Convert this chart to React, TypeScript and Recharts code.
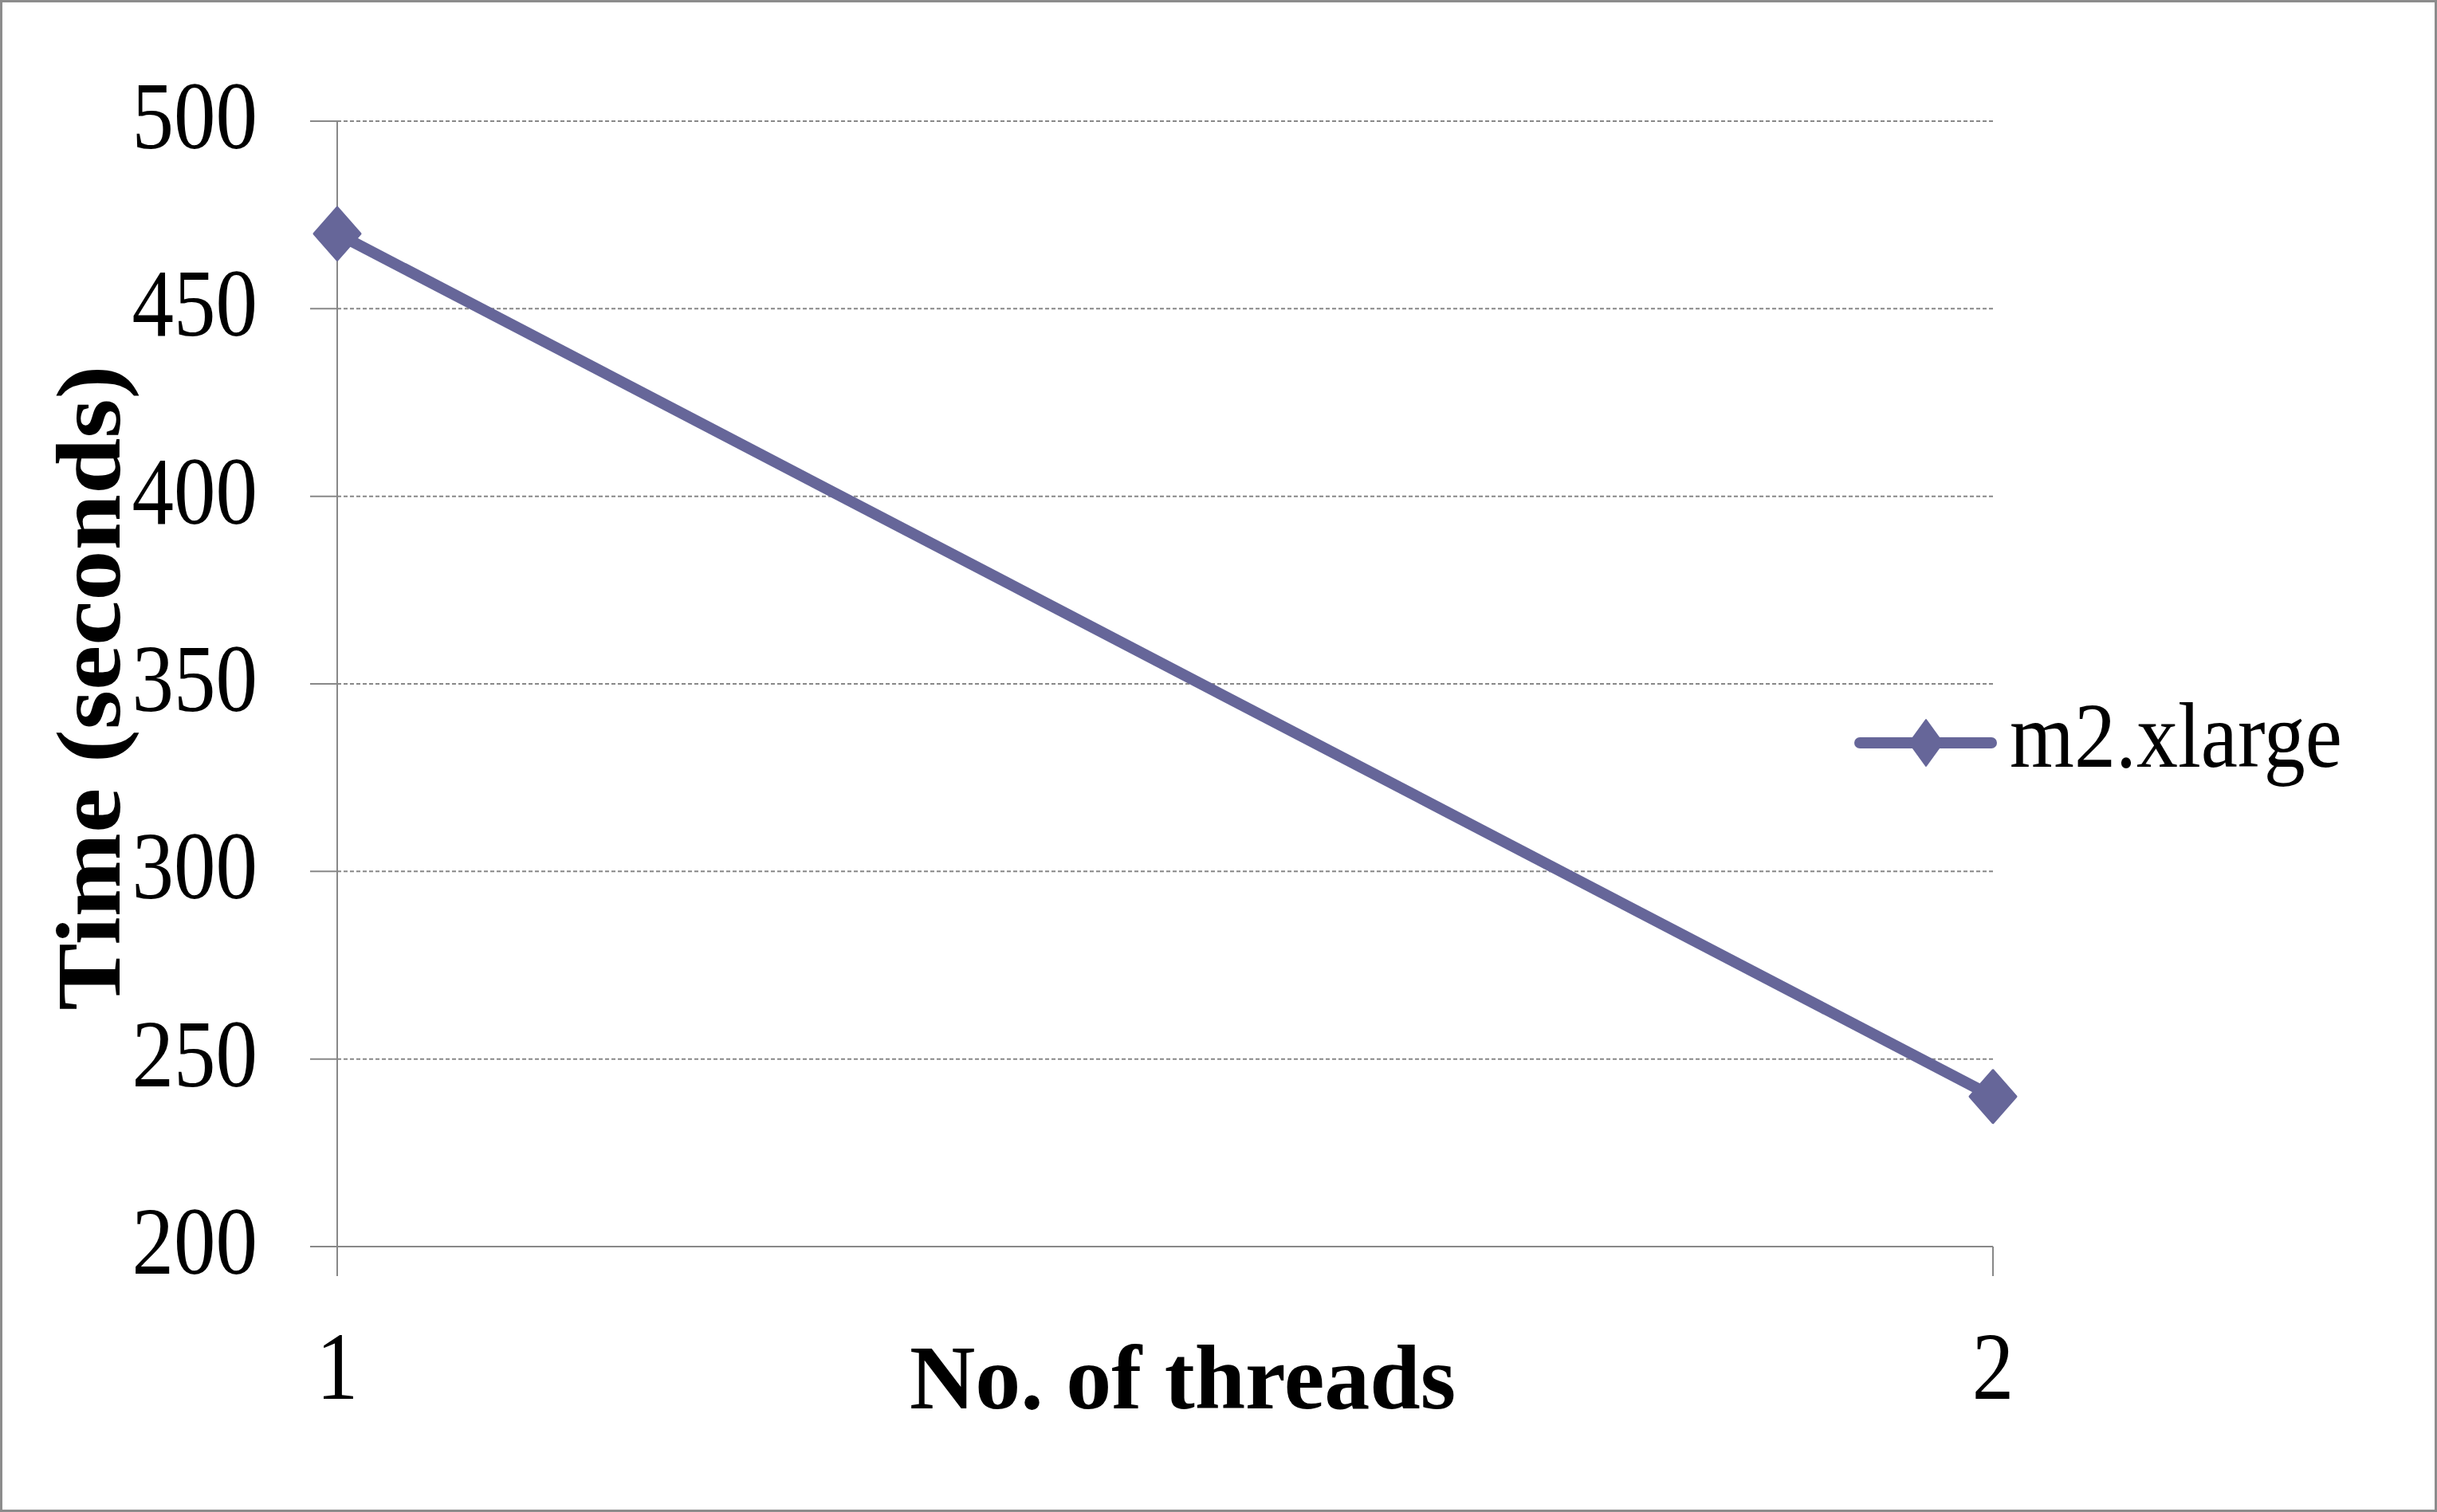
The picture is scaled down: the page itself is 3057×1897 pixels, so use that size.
import React from "react";
import {
  LineChart,
  Line,
  CartesianGrid,
  XAxis,
  YAxis,
  Legend,
  Label,
} from "recharts";

const threads = ["1", "2"];
const m2xlarge = [470, 240];
const yTicks = [200, 250, 300, 350, 400, 450, 500];

const data = threads.map((t, i) => ({ threads: t, m2xlarge: m2xlarge[i] }));

const LINE = "#666699";
const AXIS = "#888888";
const FONT = "'Liberation Serif', 'Times New Roman', serif";

const Diamond = (props: any) => {
  const { cx, cy } = props;
  if (cx == null || cy == null) return null;
  const w = 29;
  const h = 33;
  return (
    <polygon
      points={`${cx},${cy - h} ${cx + w},${cy} ${cx},${cy + h} ${cx - w},${cy}`}
      fill={LINE}
      stroke={LINE}
      strokeWidth={3}
      strokeLinejoin="round"
    />
  );
};

const YTick = (props: any) => {
  const { x, y, payload } = props;
  return (
    <text
      transform={`translate(${x},${y + 34}) scale(1,1.14)`}
      textAnchor="end"
      fontFamily={FONT}
      fontSize={105}
      fill="#000"
    >
      {payload.value}
    </text>
  );
};

const XTick = (props: any) => {
  const { x, y, payload } = props;
  return (
    <text
      transform={`translate(${x},${y + 154}) scale(1,1.14)`}
      textAnchor="middle"
      fontFamily={FONT}
      fontSize={105}
      fill="#000"
    >
      {payload.value}
    </text>
  );
};

const LegendBox = (props: any) => {
  const item = props.payload && props.payload[0];
  return (
    <svg width={720} height={140} style={{ display: "block", overflow: "visible" }}>
      <line x1={7} y1={52} x2={172} y2={52} stroke={LINE} strokeWidth={14} strokeLinecap="round" />
      <polygon points="90,23 111,52 90,81 69,52" fill={LINE} stroke={LINE} strokeWidth={2} strokeLinejoin="round" />
      <text
        transform="translate(195,82) scale(1,1.11)"
        fontFamily={FONT}
        fontSize={104}
        fill="#000"
      >
        {item ? item.value : "m2.xlarge"}
      </text>
    </svg>
  );
};

const App: React.FC = () => {
  return (
    <div style={{ position: "relative", width: 3057, height: 1897, background: "#fff" }}>
      <style>{"body{margin:0}"}</style>
      <LineChart
        width={3057}
        height={1897}
        data={data}
        margin={{ top: 152, right: 557, left: 0, bottom: 0 }}
      >
        <CartesianGrid vertical={false} stroke={AXIS} strokeWidth={2} strokeDasharray="5 3" />
        <XAxis
          dataKey="threads"
          height={333}
          stroke={AXIS}
          strokeWidth={2}
          tickSize={37}
          tickMargin={0}
          tick={<XTick />}
          tickLine={{ stroke: AXIS, strokeWidth: 2 }}
        >
          <Label
            content={(p: any) => {
              const vb = p.viewBox;
              return (
                <text
                  x={vb.x + vb.width / 2 + 22}
                  y={vb.y + 203}
                  textAnchor="middle"
                  fontFamily={FONT}
                  fontWeight="bold"
                  fontSize={114}
                  fill="#000"
                >
                  No. of threads
                </text>
              );
            }}
          />
        </XAxis>
        <YAxis
          width={423}
          domain={[200, 500]}
          ticks={yTicks}
          interval={0}
          stroke={AXIS}
          strokeWidth={2}
          tickSize={34}
          tickMargin={66}
          tick={<YTick />}
          tickLine={{ stroke: AXIS, strokeWidth: 2 }}
        >
          <Label
            content={(p: any) => {
              const vb = p.viewBox;
              const cx = vb.x + 150;
              const cy = vb.y + vb.height / 2 + 5;
              return (
                <text
                  transform={`translate(${cx},${cy}) rotate(-90) scale(1.1,1)`}
                  textAnchor="middle"
                  fontFamily={FONT}
                  fontWeight="bold"
                  fontSize={115}
                  fill="#000"
                >
                  Time (seconds)
                </text>
              );
            }}
          />
        </YAxis>
        <Legend
          layout="vertical"
          align="center"
          verticalAlign="middle"
          wrapperStyle={{ left: 2326, top: 880, width: 720 }}
          content={<LegendBox />}
        />
        <Line
          type="linear"
          dataKey="m2xlarge"
          name="m2.xlarge"
          stroke={LINE}
          strokeWidth={14}
          dot={<Diamond />}
          activeDot={false}
          isAnimationActive={false}
        />
      </LineChart>
      <div
        style={{
          position: "absolute",
          left: 0,
          top: 0,
          width: 3057,
          height: 1897,
          boxSizing: "border-box",
          border: "3px solid #8c8c8c",
          pointerEvents: "none",
        }}
      />
    </div>
  );
};

export default App;
